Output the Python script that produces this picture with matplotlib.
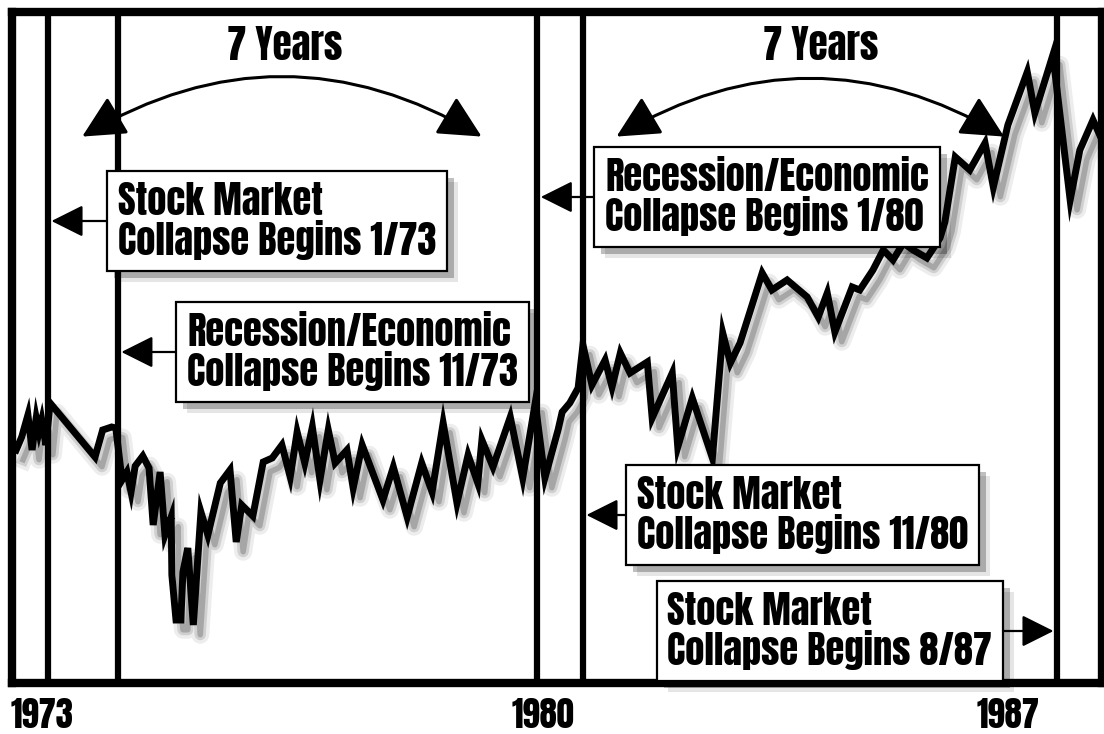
import matplotlib
matplotlib.use("Agg")
import matplotlib.pyplot as plt
import matplotlib.patheffects as pe
from matplotlib.patches import FancyArrowPatch

plt.rcParams['font.family'] = ['Anton', 'DejaVu Sans']

# index level (decimal years, arbitrary index units)
years = [1972.54, 1972.62, 1972.71, 1972.77, 1972.83, 1972.87, 1972.91, 1972.97,
         1973.03, 1973.68, 1973.79, 1973.92, 1973.98,
         1974.07, 1974.14, 1974.20, 1974.26, 1974.37, 1974.46, 1974.52, 1974.62,
         1974.69, 1974.78, 1974.79, 1974.85, 1974.92, 1974.95, 1975.02, 1975.10,
         1975.21, 1975.31, 1975.49, 1975.63, 1975.72, 1975.80, 1975.96, 1976.11,
         1976.24, 1976.38, 1976.50, 1976.60, 1976.71, 1976.82, 1976.93, 1977.05,
         1977.15, 1977.32, 1977.41, 1977.54, 1977.84, 1977.99, 1978.19, 1978.40,
         1978.55, 1978.71, 1978.91, 1979.07, 1979.21, 1979.27, 1979.43, 1979.68,
         1979.86, 1980.04, 1980.18, 1980.37, 1980.43, 1980.54, 1980.66, 1980.73,
         1980.86, 1981.05, 1981.15, 1981.27, 1981.41, 1981.66, 1981.73, 1982.02,
         1982.10, 1982.31, 1982.60, 1982.75, 1982.86, 1983.00, 1983.32, 1983.46,
         1983.68, 1983.97, 1984.13, 1984.26, 1984.37, 1984.62, 1984.73, 1984.92,
         1985.07, 1985.21, 1985.36, 1985.50, 1985.70, 1985.89, 1985.96, 1986.11,
         1986.32, 1986.54, 1986.66, 1986.87, 1987.15, 1987.26, 1987.52, 1987.77,
         1987.91, 1988.10, 1988.23, 1988.32]
index = [233, 246, 268, 233, 265, 251, 263, 238,
         280, 226, 253, 256, 255,
         203, 211, 191, 217, 227, 215, 158, 211,
         148, 166, 108, 63, 63, 111, 135, 58,
         171, 148, 200, 213, 141, 178, 167, 221,
         225, 238, 206, 251, 220, 256, 203, 253,
         220, 233, 195, 238, 183, 216, 166, 220,
         191, 260, 180, 228, 200, 243, 216, 266,
         205, 280, 205, 253, 271, 280, 295, 338,
         298, 323, 296, 330, 310, 321, 265, 310,
         236, 285, 225, 350, 320, 340, 410, 393,
         403, 386, 366, 390, 351, 396, 393, 413,
         433, 423, 440, 433, 425, 445, 461, 526,
         513, 540, 496, 558, 611, 570, 628, 483,
         533, 563, 543, 538]

# event markers (positions as drawn)
event_x = [1973.0, 1974.01, 1980.07, 1980.73, 1987.58]

tick_pos = [1972.91, 1980.15, 1986.87]
tick_labels = ['1973', '1980', '1987']

# callout boxes
box_texts = ["Stock Market\nCollapse Begins 1/73",
             "Recession/Economic\nCollapse Begins 11/73",
             "Recession/Economic\nCollapse Begins 1/80",
             "Stock Market\nCollapse Begins 11/80",
             "Stock Market\nCollapse Begins 8/87"]
box_x = [1974.01, 1975.01, 1981.05, 1981.51, 1981.95]
box_y = [462, 331, 486, 168, 52]
box_target = [0, 1, 2, 3, 4]

span_labels = ['7 Years', '7 Years']
span_label_x = [1976.42, 1984.16]
span_from = [1973.46, 1981.18]
span_to = [1979.30, 1986.85]

fig = plt.figure(figsize=(11.04, 7.34), dpi=100)
ax = fig.add_axes([12/1104, (734-683)/734, (1102-12)/1104, (683-12)/734])
ax.set_xlim(1972.48, 1988.23)
ax.set_ylim(0, 671)

for s in ax.spines.values():
    s.set_linewidth(6)
    s.set_color('black')
ax.set_yticks([])
ax.set_xticks(tick_pos, tick_labels)
ax.tick_params(axis='x', length=0, pad=11, labelsize=25)

for x in event_x:
    ax.axvline(x, color='black', lw=4.5, zorder=2)

shadow = [pe.SimpleLineShadow(offset=(5, -7), shadow_color='k', alpha=0.07,
                              linewidth=13, joinstyle='round'),
          pe.SimpleLineShadow(offset=(5, -7), shadow_color='k', alpha=0.12,
                              linewidth=8, joinstyle='round'),
          pe.SimpleLineShadow(offset=(5, -7), shadow_color='k', alpha=0.2,
                              linewidth=4, joinstyle='round'),
          pe.Normal()]
ax.plot(years, index, color='black', lw=5, solid_joinstyle='miter',
        zorder=3, path_effects=shadow)

box_shadow = [pe.SimplePatchShadow(offset=(8, -8), shadow_rgbFace='k', alpha=0.1),
              pe.SimplePatchShadow(offset=(5, -5), shadow_rgbFace='k', alpha=0.25),
              pe.Normal()]
for txt, bx, by, t in zip(box_texts, box_x, box_y, box_target):
    tx = event_x[t]
    ann = ax.annotate(txt, xy=(tx, by), xytext=(bx, by), ha='left', va='center',
                      fontsize=27.6, linespacing=1.0, zorder=6,
                      bbox=dict(boxstyle='square,pad=0.28', fc='white', ec='black', lw=1.6),
                      arrowprops=dict(arrowstyle='-|>,head_length=0.9,head_width=0.45',
                                      mutation_scale=22, color='black', lw=1.6,
                                      shrinkA=0, shrinkB=2.5))
    ann.get_bbox_patch().set_path_effects(box_shadow)

for lab, lx, a, b in zip(span_labels, span_label_x, span_from, span_to):
    ax.text(lx, 638, lab, ha='center', va='center', fontsize=28, zorder=6)
    arc = FancyArrowPatch((a, 545), (b, 545), connectionstyle='arc3,rad=-0.3',
                          arrowstyle='<|-|>,head_length=1.2,head_width=0.6',
                          mutation_scale=22, color='black', lw=2.2, zorder=6)
    ax.add_patch(arc)

fig.savefig('out.png', dpi=100)
